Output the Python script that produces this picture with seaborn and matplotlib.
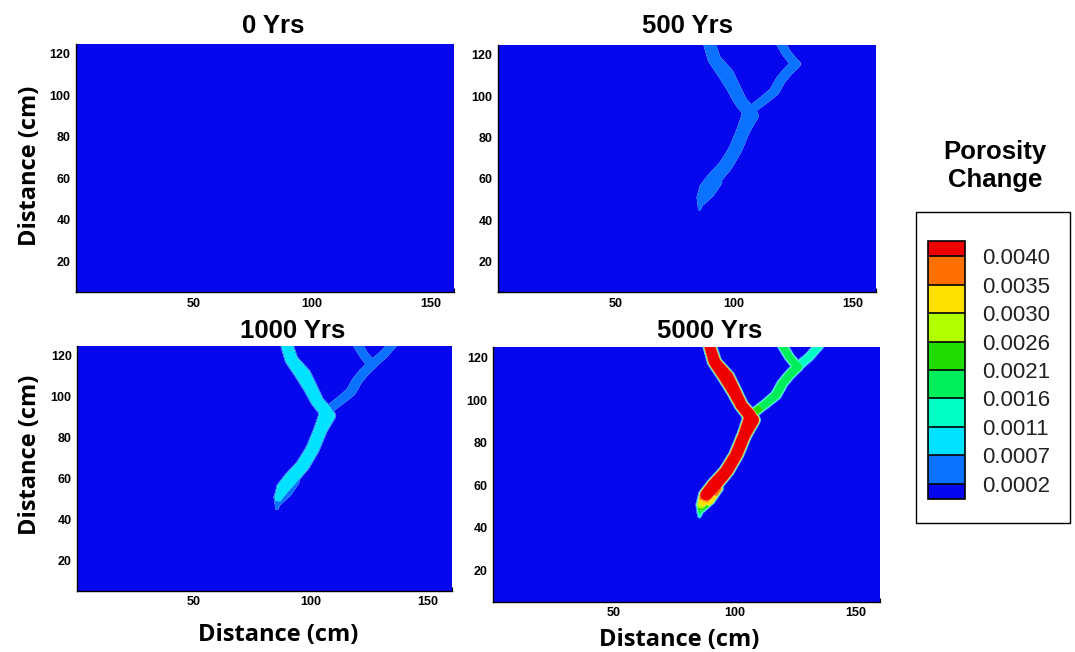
import numpy as np
import matplotlib
matplotlib.use("Agg")
import matplotlib.pyplot as plt
from matplotlib.colors import ListedColormap, BoundaryNorm
from matplotlib.cm import ScalarMappable
from matplotlib.patches import Rectangle
from matplotlib.ticker import MultipleLocator
import seaborn as sns

sns.set_style("ticks")
plt.rcParams["font.family"] = ["Liberation Sans", "DejaVu Sans"]
plt.rcParams["text.color"] = "black"
plt.rcParams["xtick.color"] = "black"
plt.rcParams["ytick.color"] = "black"

# ---------------------------------------------------------------- data
panel_titles = ["0 Yrs", "500 Yrs", "1000 Yrs", "5000 Yrs"]

level_values = [0.0002, 0.0007, 0.0011, 0.0016, 0.0021, 0.0026, 0.0030, 0.0035, 0.0040]
level_labels = ["0.0002", "0.0007", "0.0011", "0.0016", "0.0021",
                "0.0026", "0.0030", "0.0035", "0.0040"]
band_colors = ["#0707EE", "#0A72FF", "#00E2FF", "#00FFC4", "#00EE5C",
               "#20DC00", "#B2FF00", "#FFE000", "#FF7000", "#EE0000"]

background_phi = 0.0001

# fracture traces: node coordinates (cm) and half aperture (cm)
upper_x = [106.9, 106.2, 102.8, 100.0, 96.6, 91.8, 89.7]
upper_y = [90.6, 93.0, 97.6, 103.9, 110.9, 117.9, 125.6]
upper_hw = [3.4, 2.9, 2.7, 2.9, 3.3, 2.7, 2.5]

trunk_x = [106.9, 104.1, 100.7, 96.6, 91.8, 88.4, 86.3, 85.6]
trunk_y = [90.6, 83.6, 74.2, 66.4, 60.2, 55.5, 50.8, 45.3]
trunk_hw = [3.5, 2.8, 2.8, 2.9, 3.1, 2.9, 1.9, 0.6]

tipfan_x = [86.6, 89.4, 93.2]
tipfan_y = [48.6, 53.0, 58.4]
tipfan_hw = [1.4, 2.4, 1.9]

right_x = [107.8, 113.0, 117.1, 119.8, 122.6, 126.0]
right_y = [93.8, 98.4, 102.3, 107.8, 111.7, 115.6]
right_hw = [1.9, 2.0, 2.1, 2.1, 2.1, 2.2]

spur_x = [126.0, 122.6, 119.8]
spur_y = [115.6, 120.3, 125.6]
spur_hw = [2.0, 1.9, 1.9]

tail_x = [126.0, 130.8, 134.9]
tail_y = [115.6, 120.3, 125.6]
tail_hw = [2.0, 1.9, 1.9]

# porosity change on the trace nodes, one row per output time
upper_phi = [
    [0.0, 0.0, 0.0, 0.0, 0.0, 0.0, 0.0],
    [0.00045, 0.00045, 0.00045, 0.00045, 0.00045, 0.00045, 0.00045],
    [0.0009, 0.0009, 0.0009, 0.0009, 0.0009, 0.0009, 0.0009],
    [0.0046, 0.0046, 0.0046, 0.0046, 0.0046, 0.0046, 0.0046],
]
trunk_phi = [
    [0.0, 0.0, 0.0, 0.0, 0.0, 0.0, 0.0, 0.0],
    [0.00045, 0.00045, 0.00045, 0.00045, 0.00045, 0.00045, 0.00045, 0.0004],
    [0.0009, 0.0009, 0.0009, 0.0009, 0.0009, 0.0009, 0.0008, 0.0005],
    [0.0046, 0.0046, 0.0046, 0.0046, 0.0046, 0.0043, 0.0030, 0.0012],
]
tipfan_phi = [
    [0.0, 0.0, 0.0],
    [0.00045, 0.00045, 0.00045],
    [0.0005, 0.0005, 0.0005],
    [0.0018, 0.0033, 0.0037],
]
right_phi = [
    [0.0, 0.0, 0.0, 0.0, 0.0, 0.0],
    [0.00045, 0.00045, 0.00045, 0.00045, 0.00045, 0.00045],
    [0.0005, 0.0005, 0.0005, 0.0005, 0.0005, 0.0005],
    [0.0024, 0.0019, 0.0019, 0.0019, 0.0019, 0.0019],
]
spur_phi = [
    [0.0, 0.0, 0.0],
    [0.00045, 0.00045, 0.00045],
    [0.0005, 0.0005, 0.0005],
    [0.0019, 0.0019, 0.0019],
]
tail_phi = [
    [0.0, 0.0, 0.0],
    [0.0, 0.0, 0.0],
    [0.0005, 0.0005, 0.0005],
    [0.0013, 0.0013, 0.0013],
]

traces = [
    (upper_x, upper_y, upper_hw, upper_phi),
    (trunk_x, trunk_y, trunk_hw, trunk_phi),
    (tipfan_x, tipfan_y, tipfan_hw, tipfan_phi),
    (right_x, right_y, right_hw, right_phi),
    (spur_x, spur_y, spur_hw, spur_phi),
    (tail_x, tail_y, tail_hw, tail_phi),
]

# ---------------------------------------------------------------- field
gx = np.arange(0.0, 160.6, 0.35)
gy = np.arange(4.8, 125.4, 0.35)
GX, GY = np.meshgrid(gx, gy)
edge = 0.7


def porosity_field(k):
    field = np.full(GX.shape, background_phi)
    for xs, ys, hws, phis in traces:
        vals = phis[k]
        for i in range(len(xs) - 1):
            x0, y0, x1, y1 = xs[i], ys[i], xs[i + 1], ys[i + 1]
            dx, dy = x1 - x0, y1 - y0
            t = ((GX - x0) * dx + (GY - y0) * dy) / (dx * dx + dy * dy)
            t = np.clip(t, 0.0, 1.0)
            d = np.hypot(GX - (x0 + t * dx), GY - (y0 + t * dy))
            hw = hws[i] + t * (hws[i + 1] - hws[i])
            v = vals[i] + t * (vals[i + 1] - vals[i])
            w = np.clip((hw - d) / edge + 0.5, 0.0, 1.0)
            field = np.maximum(field, v * w)
    return field


cmap = ListedColormap(band_colors[1:-1])
cmap.set_under(band_colors[0])
cmap.set_over(band_colors[-1])
norm = BoundaryNorm(level_values, cmap.N)

# ---------------------------------------------------------------- figure
W, H = 1075, 652
fig = plt.figure(figsize=(W / 100, H / 100), dpi=100)
fig.patch.set_facecolor("white")


def fx(px):
    return px / W


def fy(py):
    return 1 - py / H


axes_px = [
    (76.0, 44.0, 454.0, 292.0),
    (498.0, 45.0, 876.0, 292.0),
    (77.3, 345.7, 451.7, 590.7),
    (493.3, 347.3, 880.0, 601.7),
]

tick_font = dict(family="Liberation Sans", weight="bold", size=9, color="black")

for k, (l, t, r, b) in enumerate(axes_px):
    ax = fig.add_axes([fx(l), fy(b), fx(r - l), (b - t) / H])
    z = porosity_field(k)
    ax.contourf(GX, GY, z, levels=level_values, cmap=cmap, norm=norm,
                extend="both", antialiased=True)
    ax.set_xlim(0.6, 160)
    ax.set_ylim(5.2, 124.8)
    ax.xaxis.set_major_locator(MultipleLocator(50))
    ax.xaxis.set_minor_locator(MultipleLocator(10))
    ax.yaxis.set_major_locator(MultipleLocator(20))
    ax.yaxis.set_minor_locator(MultipleLocator(5))
    ax.tick_params(which="both", direction="in", top=False, right=False,
                   color="black", width=0.8)
    ax.tick_params(which="major", length=5, pad=4)
    ax.tick_params(which="minor", length=3)
    ax.set_xticks([50, 100, 150])
    ax.set_yticks([20, 40, 60, 80, 100, 120])
    ax.set_xticklabels(["50", "100", "150"], fontdict=tick_font)
    ax.set_yticklabels(["20", "40", "60", "80", "100", "120"], fontdict=tick_font)
    for side in ["top", "right"]:
        ax.spines[side].set_visible(False)
    for side in ["left", "bottom"]:
        ax.spines[side].set_color("black")
        ax.spines[side].set_linewidth(1.0)

# panel titles
title_font = dict(family="Liberation Sans", weight="bold", size=18.5, color="black")
title_pos = [(273, 33), (687, 33), (293, 338), (710, 338)]
for (px, py), txt in zip(title_pos, panel_titles):
    fig.text(fx(px), fy(py), txt, ha="center", va="baseline", **title_font)

# axis labels
label_font = dict(family="Open Sans", weight="bold", size=17, color="black")
for py in [166, 455]:
    fig.text(fx(30), fy(py), "Distance (cm)", rotation=90, ha="center",
             va="center", **label_font)
fig.text(fx(278), fy(641), "Distance (cm)", ha="center", va="baseline", **label_font)
fig.text(fx(679), fy(646), "Distance (cm)", ha="center", va="baseline", **label_font)

# colour legend
fig.text(fx(995), fy(166), "Porosity\nChange", ha="center", va="center",
         linespacing=1.25, **title_font)
fig.patches.append(Rectangle((fx(916), fy(523)), fx(1070 - 916), (523 - 212) / H,
                             transform=fig.transFigure, fill=False,
                             edgecolor="black", linewidth=1.0))
cax = fig.add_axes([fx(928), fy(499), fx(965 - 928), (499 - 241) / H])
sm = ScalarMappable(norm=norm, cmap=cmap)
cb = fig.colorbar(sm, cax=cax, extend="both", extendrect=True,
                  extendfrac=0.066, drawedges=True, ticks=level_values)
cb.outline.set_edgecolor("black")
cb.outline.set_linewidth(1.2)
cb.dividers.set_color("black")
cb.dividers.set_linewidth(1.2)
cb.ax.tick_params(length=0, pad=12)
cb.ax.set_yticklabels(level_labels, family="Liberation Sans", size=16,
                      color="#222222")
for lab in cb.ax.get_yticklabels():
    lab.set_verticalalignment("center_baseline")

fig.savefig("out.png", dpi=100)
